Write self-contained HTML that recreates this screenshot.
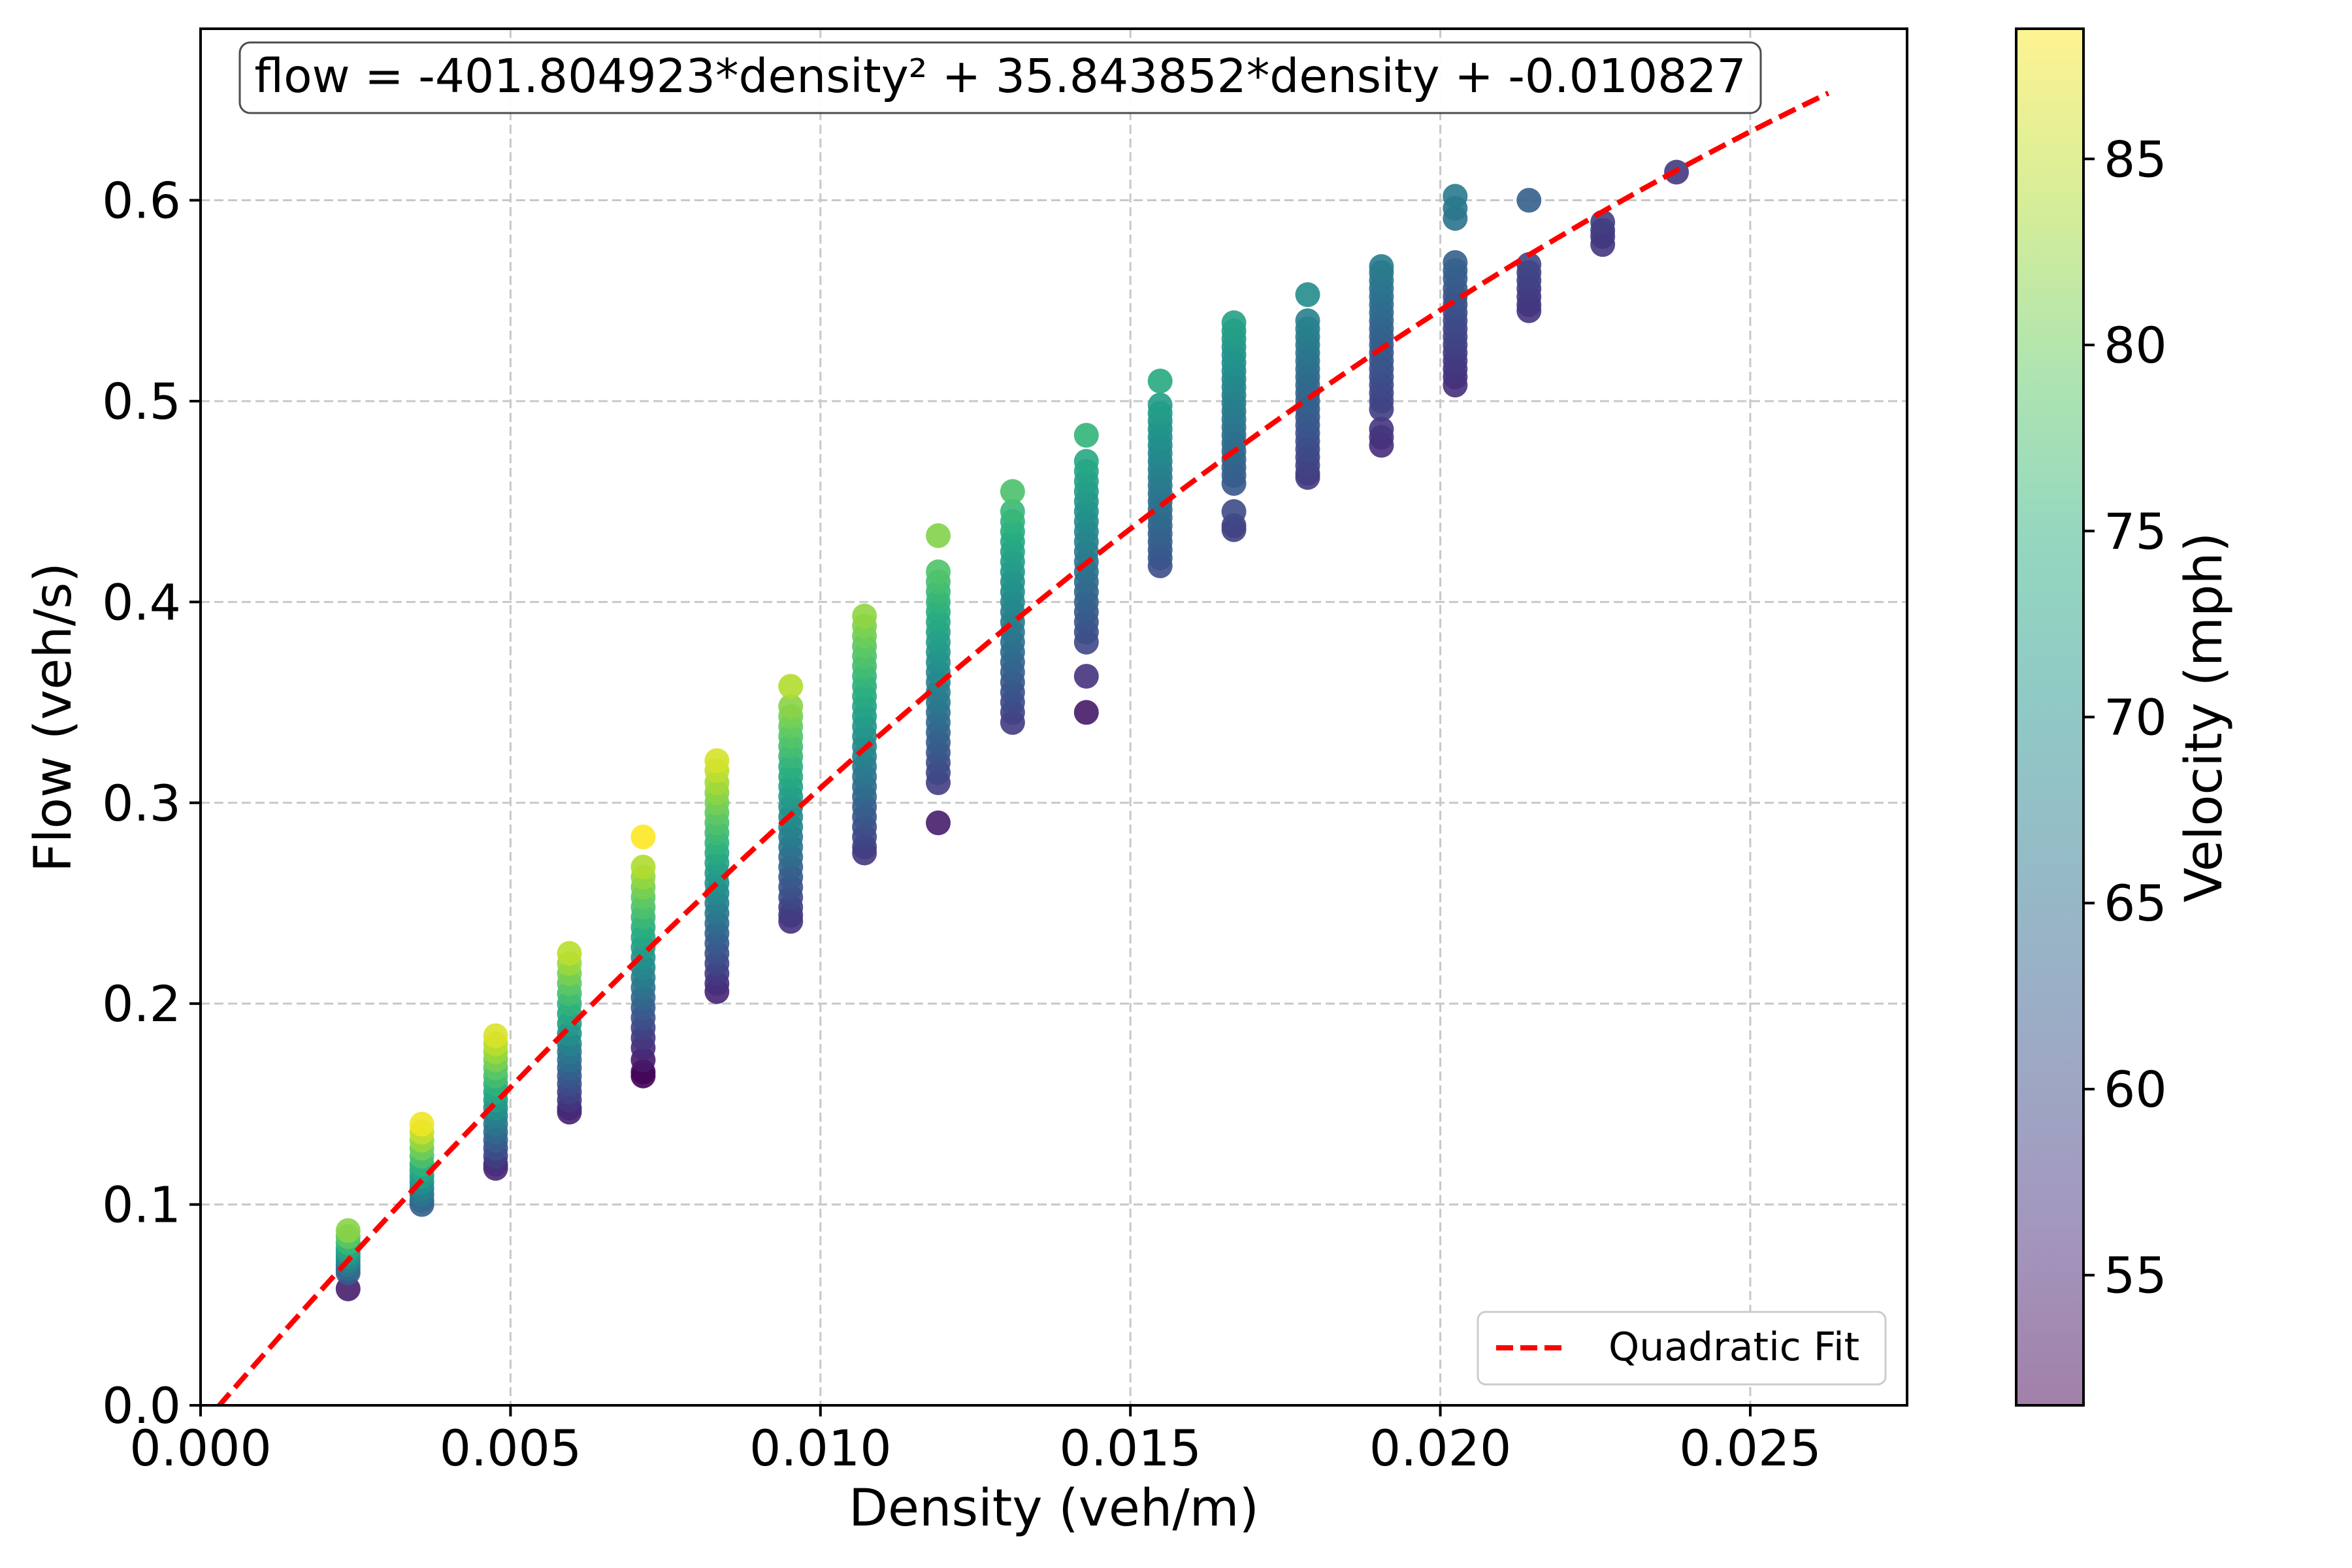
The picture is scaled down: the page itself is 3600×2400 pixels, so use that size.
<!DOCTYPE html>
<html><head><meta charset="utf-8"><style>
html,body{margin:0;padding:0;background:#fff;}
svg{display:block;font-family:"DejaVu Sans","Liberation Sans",sans-serif;}
</style></head><body>
<svg id="chart" width="3600" height="2400" viewBox="0 0 3600 2400" xmlns="http://www.w3.org/2000/svg">
<defs>
<clipPath id="plotclip"><rect x="307" y="44" width="2612" height="2107"/></clipPath>
<linearGradient id="cbgrad" x1="0" y1="1" x2="0" y2="0">
<stop offset="0" stop-color="#440154"/><stop offset="0.125" stop-color="#472d7b"/><stop offset="0.25" stop-color="#3b528b"/><stop offset="0.375" stop-color="#2c728e"/><stop offset="0.5" stop-color="#21918c"/><stop offset="0.625" stop-color="#28ae80"/><stop offset="0.75" stop-color="#5ec962"/><stop offset="0.875" stop-color="#addc30"/><stop offset="1" stop-color="#fde725"/>
</linearGradient>
</defs>
<g id="grid"></g>
<g id="points" clip-path="url(#plotclip)"></g>
<g id="fit" clip-path="url(#plotclip)"></g>
<rect x="307" y="44" width="2612" height="2107" fill="none" stroke="#000" stroke-width="4"/>
<g id="ticks"></g>
<text x="1613" y="2335" font-size="78" text-anchor="middle">Density (veh/m)</text>
<text x="108" y="1098" font-size="78" text-anchor="middle" transform="rotate(-90 108 1098)">Flow (veh/s)</text>
<g>
<rect x="367" y="65" width="2328" height="108" rx="16" fill="#fff" stroke="#444" stroke-width="3" opacity="0.95"/>
<text x="1531" y="141" font-size="71" text-anchor="middle">flow = -401.804923*density² + 35.843852*density + -0.010827</text>
</g>
<g>
<rect x="2262" y="2008" width="624" height="111" rx="12" fill="#fff" stroke="#ccc" stroke-width="3"/>
<line x1="2290" y1="2063" x2="2390" y2="2063" stroke="#ff0000" stroke-width="8" stroke-dasharray="26 11"/>
<text x="2462" y="2082" font-size="60">Quadratic Fit</text>
</g>
<g>
<rect x="3086" y="44" width="103" height="2107" fill="url(#cbgrad)" opacity="0.5"/>
<rect x="3086" y="44" width="103" height="2107" fill="none" stroke="#000" stroke-width="4"/>
<g id="cbticks"></g>
<text x="3400" y="1098" font-size="78" text-anchor="middle" transform="rotate(-90 3400 1098)">Velocity (mph)</text>
</g>
</svg>
<script>
var xTicks=[0,0.005,0.01,0.015,0.02,0.025];
var xTickLabels=["0.000","0.005","0.010","0.015","0.020","0.025"];
var yTicks=[0,0.1,0.2,0.3,0.4,0.5,0.6];
var yTickLabels=["0.0","0.1","0.2","0.3","0.4","0.5","0.6"];
var cbTicks=[55,60,65,70,75,80,85];
var densities=[0.00238,0.00357,0.00476,0.00595,0.00714,0.00833,0.00952,0.01071,0.0119,0.0131,0.01429,0.01548,0.01667,0.01786,0.01905,0.02024,0.02143,0.02262,0.02381];
var flows=[
[0.087,0.084,0.081,0.078,0.076,0.074,0.072,0.070,0.068,0.066,0.058],
[0.140,0.136,0.132,0.128,0.124,0.120,0.117,0.114,0.111,0.108,0.105,0.102,0.100],
[0.184,0.180,0.176,0.172,0.168,0.164,0.160,0.156,0.152,0.148,0.144,0.140,0.136,0.132,0.128,0.124,0.120,0.118],
[0.225,0.220,0.215,0.210,0.205,0.200,0.195,0.190,0.185,0.180,0.176,0.172,0.168,0.164,0.160,0.156,0.152,0.148,0.146],
[0.283,0.268,0.263,0.258,0.253,0.248,0.243,0.238,0.233,0.228,0.223,0.218,0.213,0.208,0.203,0.198,0.193,0.188,0.183,0.178,0.172,0.166,0.164],
[0.321,0.316,0.310,0.305,0.300,0.295,0.290,0.285,0.280,0.275,0.270,0.265,0.260,0.255,0.250,0.245,0.240,0.235,0.230,0.225,0.220,0.215,0.210,0.206],
[0.358,0.348,0.343,0.338,0.333,0.328,0.323,0.318,0.313,0.308,0.303,0.298,0.293,0.288,0.283,0.278,0.273,0.268,0.263,0.258,0.253,0.248,0.244,0.241],
[0.393,0.388,0.383,0.378,0.373,0.368,0.363,0.358,0.353,0.348,0.343,0.338,0.333,0.328,0.323,0.318,0.313,0.308,0.303,0.298,0.293,0.288,0.283,0.278,0.275],
[0.433,0.415,0.410,0.405,0.400,0.395,0.390,0.385,0.380,0.375,0.370,0.365,0.360,0.355,0.350,0.345,0.340,0.335,0.330,0.325,0.320,0.315,0.310,0.290],
[0.455,0.445,0.440,0.435,0.430,0.425,0.420,0.415,0.410,0.405,0.400,0.395,0.390,0.385,0.380,0.375,0.370,0.365,0.360,0.355,0.350,0.345,0.340],
[0.483,0.470,0.465,0.460,0.455,0.450,0.445,0.440,0.435,0.430,0.425,0.420,0.415,0.410,0.405,0.400,0.395,0.390,0.385,0.380,0.363,0.345],
[0.510,0.498,0.494,0.490,0.486,0.482,0.478,0.474,0.470,0.466,0.462,0.458,0.454,0.450,0.446,0.442,0.438,0.434,0.430,0.426,0.422,0.418],
[0.539,0.535,0.531,0.527,0.523,0.519,0.515,0.511,0.507,0.503,0.499,0.495,0.491,0.487,0.483,0.479,0.475,0.471,0.467,0.463,0.459,0.445,0.438,0.436],
[0.553,0.540,0.536,0.532,0.528,0.524,0.520,0.516,0.512,0.508,0.504,0.500,0.496,0.492,0.488,0.484,0.480,0.476,0.472,0.468,0.464,0.462],
[0.567,0.564,0.560,0.556,0.552,0.548,0.544,0.540,0.536,0.532,0.528,0.524,0.520,0.516,0.512,0.508,0.504,0.500,0.496,0.486,0.482,0.478],
[0.602,0.596,0.591,0.569,0.565,0.561,0.556,0.552,0.548,0.544,0.540,0.536,0.532,0.528,0.524,0.520,0.516,0.512,0.508],
[0.600,0.568,0.564,0.560,0.556,0.552,0.548,0.545],
[0.589,0.585,0.582,0.578],
[0.614]
];
var fitA=-401.804923, fitB=35.843852, fitC=-0.010827;
var vMin=51.5, vMax=88.5;

var NS="http://www.w3.org/2000/svg";
var L=307,R=2919,T=44,B=2151,XMAX=0.02753,YMAX=0.6854;
function sx(v){return L+v/XMAX*(R-L);}
function sy(v){return B-v/YMAX*(B-T);}
function cy(v){return B-(v-vMin)/(vMax-vMin)*(B-T);}
function mk(tag,attrs,parent){var e=document.createElementNS(NS,tag);for(var k in attrs)e.setAttribute(k,attrs[k]);parent.appendChild(e);return e;}
var vir=[[68,1,84],[71,45,123],[59,82,139],[44,114,142],[33,145,140],[40,174,128],[94,201,98],[173,220,48],[253,231,37]];
function viridis(t){t=Math.max(0,Math.min(1,t));var p=t*8,i=Math.min(7,Math.floor(p)),f=p-i;var a=vir[i],b=vir[i+1];
return "rgb("+Math.round(a[0]+(b[0]-a[0])*f)+","+Math.round(a[1]+(b[1]-a[1])*f)+","+Math.round(a[2]+(b[2]-a[2])*f)+")";}

var grid=document.getElementById('grid'),ticks=document.getElementById('ticks');
xTicks.forEach(function(v,i){
  var x=sx(v);
  if(i>0){var g=mk('line',{x1:x,y1:T,x2:x,y2:B,stroke:'#c8c8c8','stroke-width':3,'stroke-dasharray':'14 7'},grid);
  
  }
  var t=mk('line',{x1:x,y1:B,x2:x,y2:B+17,stroke:'#000','stroke-width':4},ticks);
  
  
  var lb=mk('text',{x:x,y:B+92,'font-size':76,'text-anchor':'middle'},ticks);lb.textContent=xTickLabels[i];
  
  
});
yTicks.forEach(function(v,i){
  var y=sy(v);
  if(i>0){var g=mk('line',{x1:L,y1:y,x2:R,y2:y,stroke:'#c8c8c8','stroke-width':3,'stroke-dasharray':'14 7'},grid);
  
  }
  var t=mk('line',{x1:L-17,y1:y,x2:L,y2:y,stroke:'#000','stroke-width':4},ticks);
  
  
  var lb=mk('text',{x:L-30,y:y+27,'font-size':76,'text-anchor':'end'},ticks);lb.textContent=yTickLabels[i];
  
  
});
var pts=document.getElementById('points');
densities.forEach(function(d,ci){
  flows[ci].slice().reverse().forEach(function(f){
    var v=f/d*2.23694;
    var c=mk('circle',{cx:sx(d),cy:sy(f),r:19,fill:viridis((v-vMin)/(vMax-vMin)),'fill-opacity':0.9},pts);
    
    
  });
});
var dpts=[];for(var k=0;k<=60;k++){var d=0.02626*k/60;dpts.push(sx(d).toFixed(1)+","+sy(fitA*d*d+fitB*d+fitC).toFixed(1));}
var fl=mk('polyline',{points:dpts.join(' '),fill:'none',stroke:'#ff0000','stroke-width':8,'stroke-dasharray':'28 12'},document.getElementById('fit'));


var cbt=document.getElementById('cbticks');
cbTicks.forEach(function(v){
  var y=cy(v);
  var t=mk('line',{x1:3189,y1:y,x2:3206,y2:y,stroke:'#000','stroke-width':4},cbt);
  
  
  var lb=mk('text',{x:3220,y:y+27,'font-size':76},cbt);lb.textContent=v;
  
  
});
</script>
</body></html>
